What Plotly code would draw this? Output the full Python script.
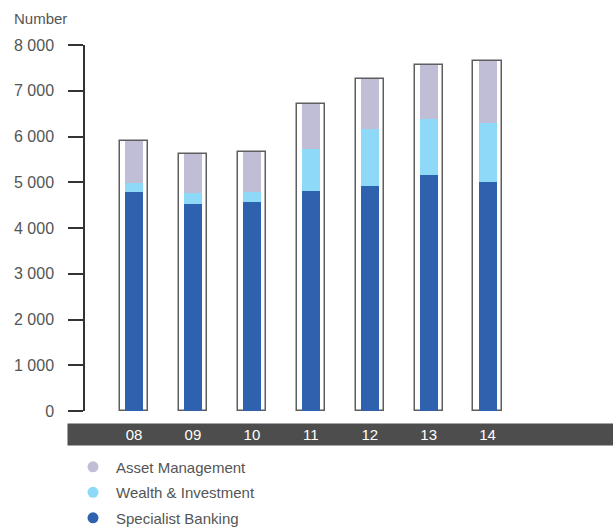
import plotly.graph_objects as go

years = ["08", "09", "10", "11", "12", "13", "14"]
specialist_banking = [4790, 4530, 4570, 4810, 4920, 5160, 5010]
wealth_investment = [200, 225, 225, 920, 1245, 1215, 1290]
asset_management = [910, 860, 875, 975, 1100, 1185, 1340]
y_ticks = [0, 1000, 2000, 3000, 4000, 5000, 6000, 7000, 8000]
y_tick_text = ["0", "1 000", "2 000", "3 000", "4 000", "5 000", "6 000", "7 000", "8 000"]

C_SB = "#2f62ae"
C_WI = "#8ed8f8"
C_AM = "#c0bed6"

totals = [a + b + c for a, b, c in zip(specialist_banking, wealth_investment, asset_management)]
base_wi = list(specialist_banking)
base_am = [a + b for a, b in zip(specialist_banking, wealth_investment)]
xs = list(range(len(years)))

W, H = 613, 529
L, R, T, B = 85, 37, 45, 117.6
pw = W - L - R
ph = H - T - B

fig = go.Figure()
fig.add_trace(go.Bar(x=xs, y=totals, width=0.48, marker=dict(color="white", line=dict(color="#5e5e5e", width=1.5)),
                     showlegend=False, hoverinfo="skip"))
fig.add_trace(go.Bar(x=xs, y=specialist_banking, width=0.306, marker=dict(color=C_SB, line=dict(width=0)), showlegend=False, name="Specialist Banking"))
fig.add_trace(go.Bar(x=xs, y=wealth_investment, base=base_wi, width=0.306, marker=dict(color=C_WI, line=dict(width=0)), showlegend=False, name="Wealth & Investment"))
fig.add_trace(go.Bar(x=xs, y=asset_management, base=base_am, width=0.306, marker=dict(color=C_AM, line=dict(width=0)), showlegend=False, name="Asset Management"))

for nm, col, grp in [("Asset Management", C_AM, "a"), ("Wealth & Investment", C_WI, "b"), ("Specialist Banking", C_SB, "c")]:
    fig.add_trace(go.Scatter(x=[None], y=[None], mode="markers", name=nm, legendgroup=grp,
                             marker=dict(color=col, size=11, symbol="circle")))

fig.update_layout(
    width=W, height=H, barmode="overlay", bargap=0,
    margin=dict(l=L, r=R, t=T, b=B, pad=0, autoexpand=False),
    paper_bgcolor="white", plot_bgcolor="white",
    font=dict(family="Liberation Sans, Arial, sans-serif", color="#555555", size=15),
    xaxis=dict(range=[-0.832, 7.5], tickvals=xs, ticktext=years, showgrid=False, zeroline=False,
               showline=False, ticks="", tickfont=dict(color="white", size=15), ticklabelstandoff=13),
    yaxis=dict(range=[0, 8000], tickvals=y_ticks, ticktext=y_tick_text, showgrid=False, zeroline=False,
               showline=True, linecolor="#333333", linewidth=1.5, ticks="outside", ticklen=15,
               tickcolor="#333333", tickwidth=1.5, tickfont=dict(color="#555555", size=16), ticklabelstandoff=11),
    legend=dict(x=(70 - L) / pw, y=(411.4 - 451) / ph, xanchor="left", yanchor="top", itemwidth=36,
                font=dict(size=15, color="#555555"), tracegroupgap=3, bgcolor="rgba(0,0,0,0)"),
    showlegend=True,
)

fig.add_shape(type="rect", xref="paper", yref="paper", x0=(67.5 - L) / pw, x1=(613 - L) / pw,
              y0=(411.4 - 446) / ph, y1=(411.4 - 424) / ph, fillcolor="#4d4d4d", line=dict(width=0), layer="below")

fig.add_annotation(text="Number", xref="paper", yref="paper", x=(12 - L) / pw, y=(411.4 - 18) / ph,
                   xanchor="left", yanchor="middle", showarrow=False, font=dict(size=15, color="#555555"))

fig.write_html("out.html")
